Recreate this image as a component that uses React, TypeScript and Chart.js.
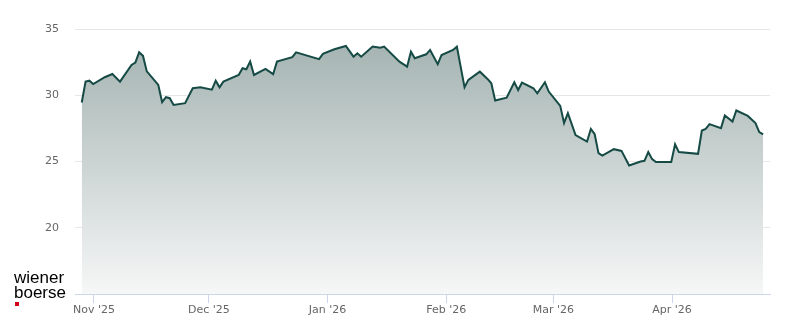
import React, { useEffect, useRef } from "react";
import { Chart, registerables } from "chart.js";

Chart.register(...registerables);

// Trading days (closing prices)
const DATES: string[] = [
  "2025-10-28", "2025-10-29", "2025-10-30", "2025-10-31",
  "2025-11-03", "2025-11-05", "2025-11-07", "2025-11-10", "2025-11-11", "2025-11-12",
  "2025-11-13", "2025-11-14", "2025-11-17", "2025-11-18", "2025-11-19", "2025-11-20",
  "2025-11-21", "2025-11-24", "2025-11-26", "2025-11-28",
  "2025-12-01", "2025-12-02", "2025-12-03", "2025-12-04", "2025-12-08", "2025-12-09",
  "2025-12-10", "2025-12-11", "2025-12-12", "2025-12-15", "2025-12-17", "2025-12-18",
  "2025-12-22", "2025-12-23", "2025-12-29", "2025-12-30",
  "2026-01-02", "2026-01-05", "2026-01-07", "2026-01-08", "2026-01-09", "2026-01-12",
  "2026-01-14", "2026-01-15", "2026-01-19", "2026-01-21", "2026-01-22", "2026-01-23",
  "2026-01-26", "2026-01-27", "2026-01-29", "2026-01-30",
  "2026-02-02", "2026-02-03", "2026-02-05", "2026-02-06", "2026-02-09", "2026-02-11",
  "2026-02-12", "2026-02-13", "2026-02-16", "2026-02-18", "2026-02-19", "2026-02-20",
  "2026-02-23", "2026-02-24", "2026-02-26", "2026-02-27",
  "2026-03-02", "2026-03-03", "2026-03-04", "2026-03-06", "2026-03-09", "2026-03-10",
  "2026-03-11", "2026-03-12", "2026-03-13", "2026-03-16", "2026-03-18", "2026-03-20",
  "2026-03-23", "2026-03-24", "2026-03-25", "2026-03-26", "2026-03-27", "2026-03-31",
  "2026-04-01", "2026-04-02", "2026-04-07", "2026-04-08", "2026-04-09", "2026-04-10",
  "2026-04-13", "2026-04-14", "2026-04-16", "2026-04-17", "2026-04-20", "2026-04-22",
  "2026-04-23", "2026-04-24",
];

const PRICES: number[] = [
  29.45, 31.03, 31.1, 30.85,
  31.36, 31.6, 31.03, 32.29, 32.46, 33.24,
  32.97, 31.8, 30.78, 29.48, 29.85, 29.78,
  29.27, 29.4, 30.53, 30.6,
  30.42, 31.1, 30.6, 31.03, 31.53, 32.04,
  31.96, 32.54, 31.53, 31.99, 31.59, 32.54,
  32.87, 33.24, 32.72, 33.12,
  33.47, 33.72, 32.91, 33.17, 32.91, 33.67,
  33.59, 33.67, 32.54, 32.16, 33.29, 32.79,
  33.09, 33.42, 32.34, 33.04,
  33.42, 33.67, 30.6, 31.16, 31.78, 31.23,
  30.9, 29.6, 29.82, 30.98, 30.4, 30.95,
  30.53, 30.15, 30.98, 30.28,
  29.2, 27.9, 28.65, 27.0, 26.5, 27.46,
  27.06, 25.63, 25.45, 25.93, 25.8, 24.7,
  25.0, 25.05, 25.71, 25.18, 24.96, 24.96,
  26.3, 25.71, 25.58, 27.34, 27.46, 27.82,
  27.52, 28.47, 28.02, 28.85, 28.44, 27.9,
  27.22, 27.04,
];

const MONTH_TICK_DATES: string[] = [
  "2025-11-01", "2025-12-01", "2026-01-01", "2026-02-01", "2026-03-01", "2026-04-01",
];
const MONTH_TICK_LABELS: string[] = ["Nov '25", "Dec '25", "Jan '26", "Feb '26", "Mar '26", "Apr '26"];

const Y_TICKS: number[] = [15, 20, 25, 30, 35];

const ORIGIN = Date.UTC(2025, 10, 1);
const CLOSE_OFFSET_DAYS = 0.8; // prices stamped at the evening close

function toDay(d: string): number {
  const [y, m, dd] = d.split("-").map(Number);
  return (Date.UTC(y, m - 1, dd) - ORIGIN) / 86400000;
}

export default function App() {
  const canvasRef = useRef<HTMLCanvasElement | null>(null);

  useEffect(() => {
    const canvas = canvasRef.current;
    if (!canvas) return;
    const points = DATES.map((d, i) => ({ x: toDay(d) + CLOSE_OFFSET_DAYS, y: PRICES[i] }));
    const chart = new Chart(canvas, {
      type: "line",
      data: {
        datasets: [
          {
            data: points,
            borderColor: "#154a45",
            borderWidth: 2,
            pointRadius: 0,
            tension: 0,
            fill: "start",
            backgroundColor: (ctx: any) => {
              const c = ctx.chart;
              const area = c.chartArea;
              if (!area) return "rgba(160,176,174,0.8)";
              const g = c.ctx.createLinearGradient(0, area.top, 0, area.bottom);
              g.addColorStop(0, "rgb(160,176,174)");
              g.addColorStop(1, "rgb(246,247,247)");
              return g;
            },
          },
        ],
      },
      options: {
        responsive: false,
        animation: false,
        maintainAspectRatio: false,
        layout: { padding: { top: 29, right: 30, left: 0, bottom: 0 } },
        plugins: { legend: { display: false }, tooltip: { enabled: false } },
        scales: {
          x: {
            type: "linear",
            min: toDay("2025-10-27") + 0.04,
            max: toDay("2026-04-26") + 0.6,
            afterBuildTicks: (scale: any) => {
              scale.ticks = MONTH_TICK_DATES.map((d) => ({ value: toDay(d) }));
            },
            afterFit: (scale: any) => {
              scale.height = 30;
            },
            ticks: {
              autoSkip: false,
              maxRotation: 0,
              padding: 1,
              color: "#666666",
              font: { family: "DejaVu Sans", size: 11 },
              callback: (_v: any, i: number) => MONTH_TICK_LABELS[i],
            },
            grid: {
              drawOnChartArea: false,
              drawTicks: true,
              tickLength: 9,
              color: "#ccd6eb",
              lineWidth: 1,
            },
            border: { display: true, color: "#ccd6eb", width: 1 },
          },
          y: {
            min: 15,
            max: 35,
            afterBuildTicks: (scale: any) => {
              scale.ticks = Y_TICKS.map((v) => ({ value: v }));
            },
            afterFit: (scale: any) => {
              scale.width = 75;
            },
            ticks: {
              padding: 16,
              color: "#666666",
              font: { family: "DejaVu Sans", size: 11 },
              callback: (v: any) => (v === 15 ? "" : String(v)),
            },
            grid: { color: "#e6e6e6", lineWidth: 1, drawTicks: false },
            border: { display: false },
          },
        },
      },
    } as any);
    return () => chart.destroy();
  }, []);

  return (
    <div style={{ position: "absolute", left: 0, top: 0, width: 800, height: 324, background: "#fff" }}>
      <canvas ref={canvasRef} width={800} height={324} style={{ width: 800, height: 324, display: "block" }} />
      <div
        style={{
          position: "absolute",
          left: 14,
          top: 270,
          fontFamily: "'Liberation Sans', Arial, sans-serif",
          fontSize: 17,
          lineHeight: "15px",
          color: "#000",
        }}
      >
        <div>wiener</div>
        <div>boerse</div>
      </div>
      <div style={{ position: "absolute", left: 15, top: 302, width: 4, height: 4, background: "#d0021b" }} />
    </div>
  );
}
